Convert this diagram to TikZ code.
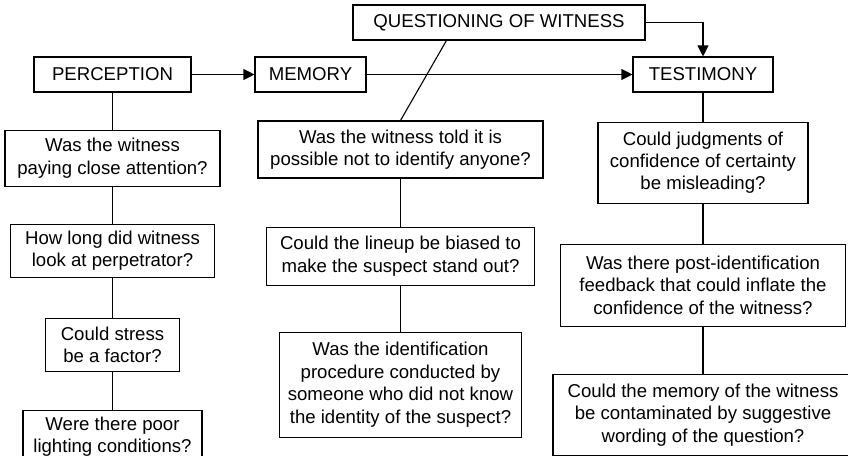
\documentclass[tikz,border=0pt]{standalone}
\usepackage{fontspec}
\setmainfont{Liberation Sans}
\usetikzlibrary{arrows.meta,positioning}

\begin{document}
\begin{tikzpicture}[
    x=0.5pt, y=-0.5pt,
    >={Triangle[length=5.5pt,width=5.5pt]},
    hd/.style={draw, line width=0.55pt, inner sep=0pt,
               font=\fontsize{9.3}{11.2}\selectfont, minimum height=17.5pt},
    qb/.style={draw, line width=0.55pt, inner sep=0pt, align=center,
               font=\fontsize{9.3}{11.2}\selectfont},
    ln/.style={line width=0.55pt},
    ar/.style={->, line width=0.55pt}
  ]
  \useasboundingbox (0,0) rectangle (848,456);
  % stages
  \node[hd, minimum width=78.5pt] (perc)  at (112.5,74.5) {PERCEPTION};
  \node[hd, minimum width=55.5pt] (mem)   at (310.5,74.5) {MEMORY};
  \node[hd, minimum width=146pt]  (quest) at (499,22.5)   {QUESTIONING OF WITNESS};
  \node[hd, minimum width=70pt]   (test)  at (703,74.5)   {TESTIMONY};
  % perception questions
  \node[qb, minimum width=107.5pt, minimum height=28pt,   below=18.5pt of perc] (p1) {Was the witness\\paying close attention?};
  \node[qb, minimum width=102pt,   minimum height=26.5pt, below=18.5pt of p1]   (p2) {How long did witness\\look at perpetrator?};
  \node[qb, minimum width=67pt,    minimum height=26.5pt, below=20pt of p2]     (p3) {Could stress\\be a factor?};
  \node[qb, minimum width=89.5pt,  minimum height=26.5pt, below=19pt of p3]     (p4) {Were there poor\\lighting conditions?};
  % memory questions
  \node[qb, minimum width=142.5pt, minimum height=28.5pt] (m1) at (400.5,149.5) {Was the witness told it is\\possible not to identify anyone?};
  \node[qb, minimum width=134pt,   minimum height=29pt,   below=24pt of m1] (m2) {Could the lineup be biased to\\make the suspect stand out?};
  \node[qb, minimum width=121pt,   minimum height=52.5pt, below=23pt of m2] (m3) {Was the identification\\procedure conducted by\\someone who did not know\\the identity of the suspect?};
  % testimony questions
  \node[qb, minimum width=105pt,   minimum height=40.5pt, below=14.5pt of test] (t1) {Could judgments of\\confidence of certainty\\be misleading?};
  \node[qb, minimum width=142.5pt, minimum height=41pt,   below=20pt of t1]     (t2) {Was there post-identification\\feedback that could inflate the\\confidence of the witness?};
  \node[qb, minimum width=150pt,   minimum height=40.5pt, below=23.5pt of t2]   (t3) {Could the memory of the witness\\be contaminated by suggestive\\wording of the question?};
  % flow
  \draw[ar] (perc) -- (mem);
  \draw[ar] (mem) -- (test);
  \draw[ar] (quest.east) -| (test.north);
  \draw[ln] ([xshift=47pt]quest.south west) -- (m1.north);
  \draw[ln] (perc) -- (p1);
  \draw[ln] (p1) -- (p2);
  \draw[ln] (p2) -- (p3);
  \draw[ln] (p3) -- (p4);
  \draw[ln] (m1) -- (m2);
  \draw[ln] (m2) -- (m3);
  \draw[ln] (test) -- (t1);
  \draw[ln] (t1) -- (t2);
  \draw[ln] (t2) -- (t3);
\end{tikzpicture}
\end{document}
